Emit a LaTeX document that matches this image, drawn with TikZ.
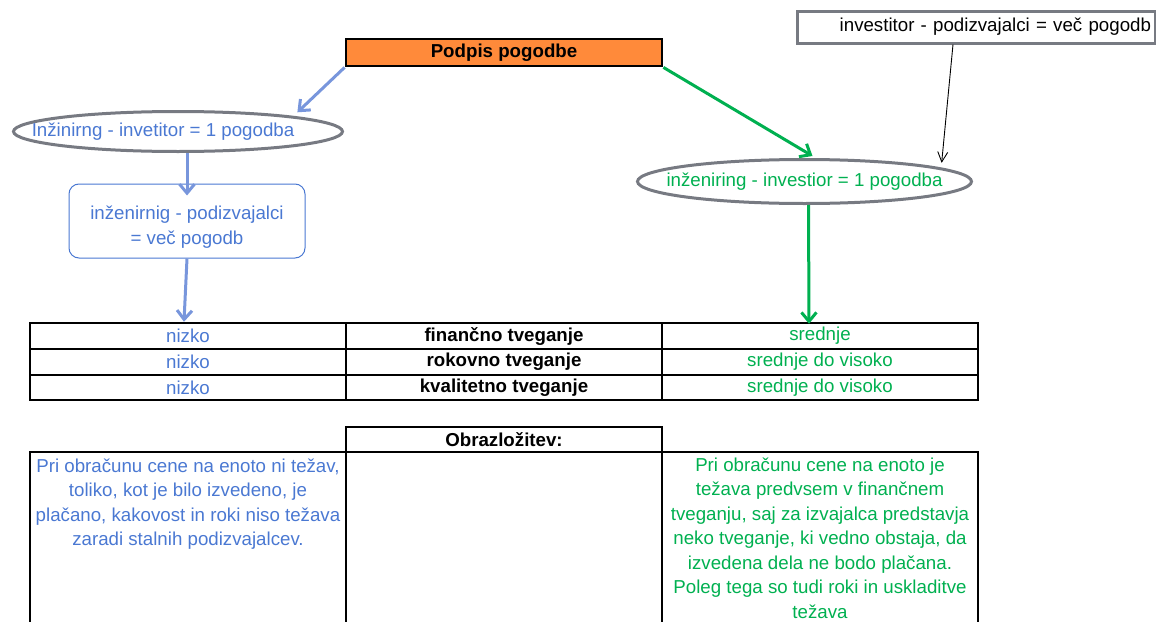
\documentclass[tikz,border=0pt]{standalone}
\usepackage{fontspec}
\setmainfont{Liberation Sans}
\usetikzlibrary{shapes.geometric,arrows.meta,calc}

\definecolor{txtblue}{HTML}{4A78D2}
\definecolor{arrblue}{HTML}{7896DC}
\definecolor{txtgreen}{HTML}{00B050}
\definecolor{ringgray}{HTML}{777A82}
\definecolor{boxorange}{HTML}{FF8A3A}

\newcommand{\txtsize}{\fontsize{18.7}{22}\selectfont}

\tikzset{
  oval/.style={ellipse, draw=ringgray, line width=3pt, inner xsep=-30pt, inner ysep=0pt},
  cell/.style={draw=black, line width=2.5pt, minimum width=316pt, minimum height=26pt, inner sep=0pt},
  bigcell/.style={draw=black, line width=2.5pt, minimum width=316pt, minimum height=248pt, inner sep=0pt},
  para/.style={inner sep=0pt, align=center, font=\fontsize{18.7}{24.5}\selectfont},
  bluelink/.style={draw=arrblue, line width=3pt, -{Straight Barb[length=9pt,width=15pt]}},
  greenlink/.style={draw=txtgreen, line width=3pt, -{Straight Barb[length=9pt,width=15pt]}},
  thinlink/.style={draw=black, line width=0.9pt, -{Straight Barb[length=10pt,width=10pt]}},
}

\begin{document}
\begin{tikzpicture}[x=1pt, y=-1pt, font=\txtsize]
\useasboundingbox (0,0) rectangle (1156,621);
\clip (0,0) rectangle (1156,621);

% top box
\node[draw=black, fill=boxorange, line width=2.8pt, minimum width=316pt, minimum height=27pt, inner sep=0pt,
      font=\txtsize\bfseries] (podpis) at (504,52.5) {Podpis pogodbe};

% left branch (label sits a little left of the oval's centre)
\node[oval, inner xsep=-50pt, minimum width=329pt, minimum height=40pt, text=txtblue] (ell1) at (178,131.5)
  {Inžinirng - invetitor = 1 pogodba\hspace*{30pt}};
\node[draw=txtblue, line width=1pt, rounded corners=10pt, minimum width=236pt, minimum height=74pt,
      inner sep=0pt] (box1) at (187,221) {};
\node[inner sep=0pt, align=center, text=txtblue, font=\fontsize{18.7}{25}\selectfont] (box1t) at (187,227)
  {inženirnig - podizvajalci\\= več pogodb};

% right branch
\node[oval, minimum width=334pt, minimum height=44pt, text=txtgreen] (ell2) at (804.5,181.5)
  {inženiring - investior = 1 pogodba};
\node[draw=ringgray, line width=3pt, minimum width=358pt, minimum height=32pt, inner sep=4pt,
      text width=350pt, align=right] (inv) at (976,27)
  {investitor - podizvajalci = več pogodb};

% risk table
\node[cell, text=txtblue] (a1) at (188,336) {nizko};
\node[cell, font=\txtsize\bfseries] (b1) at (504,336) {finančno tveganje};
\node[cell, text=txtgreen] (c1) at (820,336) {srednje};
\node[cell, text=txtblue] (a2) at (188,362) {nizko};
\node[cell, font=\txtsize\bfseries] (b2) at (504,362) {rokovno tveganje};
\node[cell, text=txtgreen] (c2) at (820,362) {srednje do visoko};
\node[cell, minimum height=25pt, text=txtblue] (a3) at (188,387.5) {nizko};
\node[cell, minimum height=25pt, font=\txtsize\bfseries] (b3) at (504,387.5) {kvalitetno tveganje};
\node[cell, minimum height=25pt, text=txtgreen] (c3) at (820,387.5) {srednje do visoko};

% explanation table
\node[cell, minimum height=25pt, font=\txtsize\bfseries] (ob) at (504,439.5) {Obrazložitev:};
\node[bigcell] (la) at (188,576) {};
\node[bigcell] (mb) at (504,576) {};
\node[bigcell] (rc) at (820,576) {};
\node[para, text=txtblue, anchor=north] (lt) at (188,458.5)
  {Pri obračunu cene na enoto ni težav,\\toliko, kot je bilo izvedeno, je\\plačano, kakovost in roki niso težava\\zaradi stalnih podizvajalcev.};
\node[para, text=txtgreen, anchor=north] (rt) at (820,457.5)
  {Pri obračunu cene na enoto je\\težava predvsem v finančnem\\tveganju, saj za izvajalca predstavja\\neko tveganje, ki vedno obstaja, da\\izvedena dela ne bodo plačana.\\Poleg tega so tudi roki in uskladitve\\težava};

% connectors
\draw[bluelink] (podpis.south west) -- ($(ell1.north east)+(2,-4)$);
\draw[bluelink] (ell1.south -| box1.north) -- ($(box1.north)+(0,12)$);
\draw[bluelink] (box1.south) -- ($(a1.north)+(-4,0)$);
\draw[greenlink] (podpis.south east) -- ($(ell2.north)+(8,-2)$);
\draw[greenlink] ($(ell2.south)+(4,0)$) -- ($(c1.north)+(-11,2)$);
\draw[thinlink] ($(inv.south)+(-23,0)$) -- ($(ell2.north east)+(18,-2)$);
\end{tikzpicture}
\end{document}
